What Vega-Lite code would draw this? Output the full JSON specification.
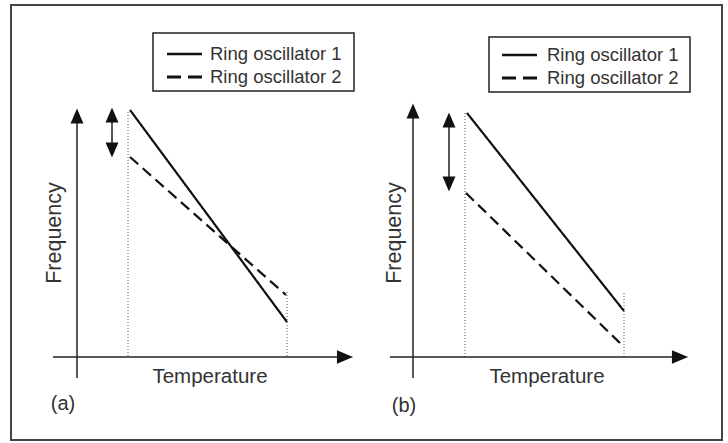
{
  "$schema": "https://vega.github.io/schema/vega-lite/v6.json",
  "width": 728,
  "height": 443,
  "autosize": {"type": "fit", "contains": "padding"},
  "padding": 0,
  "background": "white",
  "config": {"view": {"stroke": null}},
  "datasets": {
    "border": [{"x": 11, "y": 5, "x2": 722, "y2": 440}],
    "legendBox": [
      {"panel": "a", "x": 153, "y": 33, "x2": 354, "y2": 91},
      {"panel": "b", "x": 489, "y": 37, "x2": 690, "y2": 92}
    ],
    "axes": [
      {"panel": "a", "part": "y axis", "x": 77, "y": 117, "x2": 77, "y2": 378},
      {"panel": "a", "part": "x axis", "x": 53, "y": 357, "x2": 345, "y2": 357},
      {"panel": "b", "part": "y axis", "x": 413, "y": 112, "x2": 413, "y2": 378},
      {"panel": "b", "part": "x axis", "x": 390, "y": 357, "x2": 680, "y2": 357},
      {"panel": "a", "part": "gap", "x": 112, "y": 116, "x2": 112, "y2": 149},
      {"panel": "b", "part": "gap", "x": 449, "y": 121, "x2": 449, "y2": 183}
    ],
    "guides": [
      {"panel": "a", "x": 128, "y": 112, "x2": 128, "y2": 357},
      {"panel": "a", "x": 287, "y": 292, "x2": 287, "y2": 357},
      {"panel": "b", "x": 465, "y": 113, "x2": 465, "y2": 357},
      {"panel": "b", "x": 624, "y": 293, "x2": 624, "y2": 357}
    ],
    "curves": [
      {"panel": "a", "series": "Ring oscillator 1", "x": 130, "y": 110, "x2": 287, "y2": 322},
      {"panel": "a", "series": "Ring oscillator 2", "x": 130, "y": 157, "x2": 286, "y2": 295},
      {"panel": "b", "series": "Ring oscillator 1", "x": 467, "y": 113, "x2": 624, "y2": 311},
      {"panel": "b", "series": "Ring oscillator 2", "x": 466, "y": 193, "x2": 624, "y2": 347}
    ],
    "legendSamples": [
      {"panel": "a", "series": "Ring oscillator 1", "x": 167, "x2": 202, "y": 54},
      {"panel": "a", "series": "Ring oscillator 2", "x": 167, "x2": 202, "y": 77},
      {"panel": "b", "series": "Ring oscillator 1", "x": 502, "x2": 537, "y": 55},
      {"panel": "b", "series": "Ring oscillator 2", "x": 502, "x2": 537, "y": 78}
    ],
    "legendLabels": [
      {"label": "Ring oscillator 1", "x": 210, "y": 54},
      {"label": "Ring oscillator 2", "x": 210, "y": 77},
      {"label": "Ring oscillator 1", "x": 547, "y": 55},
      {"label": "Ring oscillator 2", "x": 547, "y": 78}
    ],
    "arrowheads": [
      {"dir": "up", "x": 77, "y": 116},
      {"dir": "right", "x": 345, "y": 357},
      {"dir": "up", "x": 413, "y": 111},
      {"dir": "right", "x": 680, "y": 357},
      {"dir": "up", "x": 112, "y": 115},
      {"dir": "down", "x": 112, "y": 150},
      {"dir": "up", "x": 449, "y": 120},
      {"dir": "down", "x": 449, "y": 184}
    ],
    "xTitles": [
      {"label": "Temperature", "x": 210, "y": 377},
      {"label": "Temperature", "x": 547, "y": 377}
    ],
    "yTitles": [
      {"label": "Frequency", "x": 55, "y": 233},
      {"label": "Frequency", "x": 395, "y": 233}
    ],
    "panelLabels": [
      {"label": "(a)", "x": 63, "y": 404},
      {"label": "(b)", "x": 404, "y": 406}
    ]
  },
  "layer": [
    {
      "data": {"name": "border"},
      "mark": {"type": "rect", "fill": null, "stroke": "#444", "strokeWidth": 2},
      "encoding": {
        "x": {"field": "x", "type": "quantitative", "scale": {"domain": [0, 728], "nice": false, "zero": false}, "axis": null},
        "x2": {"field": "x2"},
        "y": {"field": "y", "type": "quantitative", "scale": {"domain": [0, 443], "nice": false, "zero": false, "reverse": true}, "axis": null},
        "y2": {"field": "y2"}
      }
    },
    {
      "data": {"name": "legendBox"},
      "mark": {"type": "rect", "fill": null, "stroke": "#222", "strokeWidth": 1.5},
      "encoding": {
        "x": {"field": "x", "type": "quantitative"},
        "x2": {"field": "x2"},
        "y": {"field": "y", "type": "quantitative"},
        "y2": {"field": "y2"}
      }
    },
    {
      "data": {"name": "guides"},
      "mark": {"type": "rule", "stroke": "#555", "strokeWidth": 1, "strokeDash": [1, 2]},
      "encoding": {
        "x": {"field": "x", "type": "quantitative"},
        "x2": {"field": "x2"},
        "y": {"field": "y", "type": "quantitative"},
        "y2": {"field": "y2"}
      }
    },
    {
      "data": {"name": "axes"},
      "mark": {"type": "rule", "stroke": "#222", "strokeWidth": 1.5},
      "encoding": {
        "x": {"field": "x", "type": "quantitative"},
        "x2": {"field": "x2"},
        "y": {"field": "y", "type": "quantitative"},
        "y2": {"field": "y2"}
      }
    },
    {
      "data": {"name": "curves"},
      "mark": {"type": "rule", "stroke": "#111", "strokeWidth": 2.2},
      "encoding": {
        "x": {"field": "x", "type": "quantitative"},
        "x2": {"field": "x2"},
        "y": {"field": "y", "type": "quantitative"},
        "y2": {"field": "y2"},
        "strokeDash": {"field": "series", "type": "nominal", "scale": {"domain": ["Ring oscillator 1", "Ring oscillator 2"], "range": [[1, 0], [11, 6]]}, "legend": null}
      }
    },
    {
      "data": {"name": "legendSamples"},
      "transform": [{"filter": "datum.series === 'Ring oscillator 1'"}],
      "mark": {"type": "rule", "stroke": "#111", "strokeWidth": 2.5},
      "encoding": {
        "x": {"field": "x", "type": "quantitative"},
        "x2": {"field": "x2"},
        "y": {"field": "y", "type": "quantitative"}
      }
    },
    {
      "data": {"name": "legendSamples"},
      "transform": [{"filter": "datum.series === 'Ring oscillator 2'"}],
      "mark": {"type": "rule", "stroke": "#111", "strokeWidth": 2.8, "strokeDash": [14, 7]},
      "encoding": {
        "x": {"field": "x", "type": "quantitative"},
        "x2": {"field": "x2"},
        "y": {"field": "y", "type": "quantitative"}
      }
    },
    {
      "data": {"name": "arrowheads"},
      "transform": [{"filter": "datum.dir === 'up'"}],
      "mark": {"type": "point", "shape": "M0,-1L0.85,1L-0.85,1Z", "size": 230, "filled": true, "color": "#111", "opacity": 1},
      "encoding": {
        "x": {"field": "x", "type": "quantitative"},
        "y": {"field": "y", "type": "quantitative"}
      }
    },
    {
      "data": {"name": "arrowheads"},
      "transform": [{"filter": "datum.dir === 'down'"}],
      "mark": {"type": "point", "shape": "M0,-1L0.85,1L-0.85,1Z", "size": 230, "filled": true, "color": "#111", "opacity": 1, "angle": 180},
      "encoding": {
        "x": {"field": "x", "type": "quantitative"},
        "y": {"field": "y", "type": "quantitative"}
      }
    },
    {
      "data": {"name": "arrowheads"},
      "transform": [{"filter": "datum.dir === 'right'"}],
      "mark": {"type": "point", "shape": "M0,-1L0.85,1L-0.85,1Z", "size": 260, "filled": true, "color": "#111", "opacity": 1, "angle": 90},
      "encoding": {
        "x": {"field": "x", "type": "quantitative"},
        "y": {"field": "y", "type": "quantitative"}
      }
    },
    {
      "data": {"name": "legendLabels"},
      "mark": {"type": "text", "align": "left", "baseline": "middle", "font": "Liberation Sans", "fontSize": 18.5, "color": "#333"},
      "encoding": {
        "x": {"field": "x", "type": "quantitative"},
        "y": {"field": "y", "type": "quantitative"},
        "text": {"field": "label"}
      }
    },
    {
      "data": {"name": "xTitles"},
      "mark": {"type": "text", "align": "center", "baseline": "middle", "font": "Liberation Sans", "fontSize": 20.5, "color": "#333"},
      "encoding": {
        "x": {"field": "x", "type": "quantitative"},
        "y": {"field": "y", "type": "quantitative"},
        "text": {"field": "label"}
      }
    },
    {
      "data": {"name": "yTitles"},
      "mark": {"type": "text", "align": "center", "baseline": "middle", "angle": 270, "font": "Liberation Sans", "fontSize": 21.5, "color": "#333"},
      "encoding": {
        "x": {"field": "x", "type": "quantitative"},
        "y": {"field": "y", "type": "quantitative"},
        "text": {"field": "label"}
      }
    },
    {
      "data": {"name": "panelLabels"},
      "mark": {"type": "text", "align": "center", "baseline": "middle", "font": "Liberation Sans", "fontSize": 20, "color": "#333"},
      "encoding": {
        "x": {"field": "x", "type": "quantitative"},
        "y": {"field": "y", "type": "quantitative"},
        "text": {"field": "label"}
      }
    }
  ]
}
